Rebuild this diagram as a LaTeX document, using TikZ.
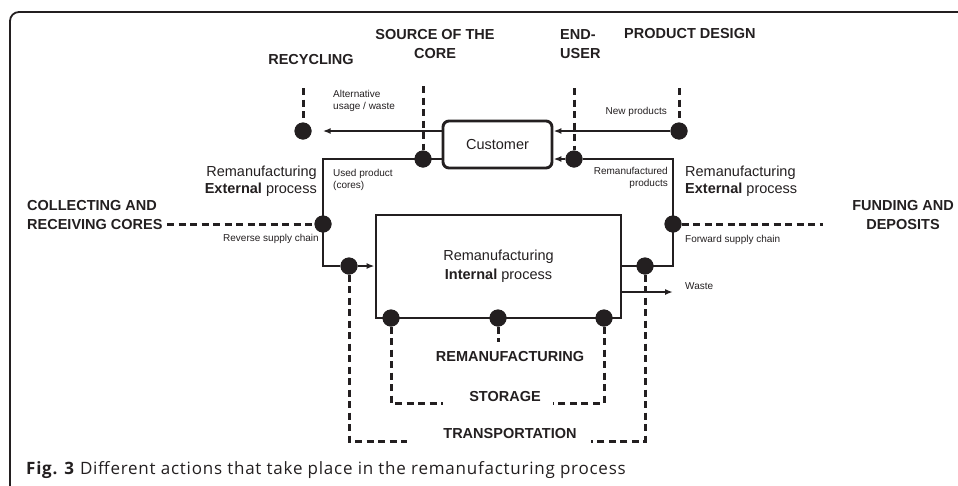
\documentclass[tikz,border=0pt]{standalone}
\usepackage{fontspec}
\setmainfont{Liberation Sans}
\newfontfamily\capfont[LetterSpace=4.5]{Open Sans}
\usetikzlibrary{arrows.meta}
\definecolor{ink}{RGB}{35,31,32}
\tikzset{
  solidline/.style={draw=ink, line width=2.9pt},
  flow/.style={solidline, -{Latex[length=8pt,width=6pt]}},
  dashline/.style={draw=ink, line width=3pt, dash pattern=on 7pt off 4.5pt},
  dot/.style={circle, fill=ink, inner sep=0pt, minimum size=17pt},
  bigcap/.style={font=\fontsize{14.5}{18.5}\selectfont\bfseries, text=ink, inner sep=0pt},
  midtxt/.style={font=\fontsize{14.5}{17}\selectfont, text=ink, inner sep=0pt},
  smalltxt/.style={font=\fontsize{10}{12}\selectfont, text=ink, inner sep=0pt},
}
\begin{document}
\begin{tikzpicture}[x=1pt,y=-1pt]
\useasboundingbox (0,0) rectangle (958,485);
% frame
\draw[ink, line width=1.8pt, rounded corners=9pt] (10,520) -- (10,12) -- (990,12);

% boxes
\node[solidline, rounded corners=6pt, minimum width=109pt, minimum height=47pt, midtxt] (cust) at (497.5,144.5) {Customer};
\node[solidline, minimum width=245pt, minimum height=103pt, midtxt, align=center] (int) at (498.5,266.5) {Remanufacturing\\[2pt]\textbf{Internal} process};

% dots
\node[dot] (dRec) at (303,131) {};
\node[dot] (dSrc) at (423,159) {};
\node[dot] (dEnd) at (574,159) {};
\node[dot] (dProd) at (679,131) {};
\node[dot] (dColl) at (323,224) {};
\node[dot] (dFund) at (673,224) {};
\node[dot] (dRevIn) at (349,266) {};
\node[dot] (dFwdOut) at (645,266) {};
\node[dot] (dS1) at (391,318) {};
\node[dot] (dRem) at (498,318) {};
\node[dot] (dS2) at (604,318) {};

% coordinates
\coordinate (cL1) at (323,159);
\coordinate (cL2) at (323,266);
\coordinate (cR1) at (673,159);
\coordinate (cR2) at (673,266);
\coordinate (wasteEnd) at (673,292);
\coordinate (recTop) at (303,88);
\coordinate (srcTop) at (423,86);
\coordinate (endTop) at (574,88);
\coordinate (prodTop) at (679,88);
\coordinate (collEnd) at (167,224);
\coordinate (fundEnd) at (823,224);
\coordinate (tL1) at (349,441);
\coordinate (tL2) at (407,441);
\coordinate (tR1) at (645,441);
\coordinate (tR2) at (591,441);
\coordinate (sL1) at (391,403);
\coordinate (sL2) at (443,403);
\coordinate (sR1) at (604,403);
\coordinate (sR2) at (553,403);
\coordinate (remEnd) at (498,342);

% dashed connectors
\draw[dashline] (recTop) -- (dRec);
\draw[dashline] (srcTop) -- (dSrc);
\draw[dashline] (endTop) -- (dEnd);
\draw[dashline] (prodTop) -- (dProd);
\draw[dashline] (collEnd) -- (dColl);
\draw[dashline] (dFund) -- (fundEnd);
\draw[dashline] (dRevIn) -- (tL1) -- (tL2);
\draw[dashline] (dFwdOut) -- (tR1) -- (tR2);
\draw[dashline] (dS1) -- (sL1) -- (sL2);
\draw[dashline] (dS2) -- (sR1) -- (sR2);
\draw[dashline] (dRem) -- (remEnd);

% solid connectors
\draw[flow, shorten >=11pt] (cust.west |- dRec) -- (dRec);
\draw[flow] (dProd) -- (cust.east |- dProd);
\draw[solidline] (cust.west |- dSrc) -- (cL1) -- (cL2) -- (dRevIn);
\draw[flow] (dRevIn) -- (int.west |- dRevIn);
\draw[solidline] (int.east |- dFwdOut) -- (cR2) -- (cR1) -- (dEnd);
\draw[flow] (dEnd) -- (cust.east |- dEnd);
\draw[flow] (int.east |- wasteEnd) -- (wasteEnd);

% redraw dots on top
\foreach \d in {dRec,dSrc,dEnd,dProd,dColl,dFund,dRevIn,dFwdOut,dS1,dRem,dS2}
  \fill[ink] (\d) circle (8.5pt);

% big labels
\node[bigcap] (lRec) at (311,60) {RECYCLING};
\node[bigcap, align=center] (lSrc) at (435,44) {SOURCE OF THE\\CORE};
\node[bigcap, align=left, anchor=west] (lEnd) at (560,44) {END-\\USER};
\node[bigcap, anchor=west] (lProd) at (624,34) {PRODUCT DESIGN};
\node[bigcap, align=left, anchor=west] (lColl) at (27,215) {COLLECTING AND\\RECEIVING CORES};
\node[bigcap, align=center] (lFund) at (903,215) {FUNDING AND\\DEPOSITS};
\node[bigcap] (lRem) at (510,357) {REMANUFACTURING};
\node[bigcap] (lSto) at (505,397) {STORAGE};
\node[bigcap] (lTra) at (510,434) {TRANSPORTATION};

% mid labels
\node[midtxt, align=right, anchor=east] (lExtL) at (317,181) {Remanufacturing\\\textbf{External} process};
\node[midtxt, align=left, anchor=west] (lExtR) at (685,181) {Remanufacturing\\\textbf{External} process};

% small labels
\node[smalltxt, align=left, anchor=west] (lAlt) at (333,101) {Alternative\\usage / waste};
\node[smalltxt, anchor=east] (lNew) at (667,112) {New products};
\node[smalltxt, align=left, anchor=west] (lUsed) at (333,180) {Used product\\(cores)};
\node[smalltxt, align=right, anchor=east] (lRmp) at (668,178) {Remanufactured\\products};
\node[smalltxt, anchor=east] (lRev) at (319,239) {Reverse supply chain};
\node[smalltxt, anchor=west] (lFwd) at (685,240) {Forward supply chain};
\node[smalltxt, anchor=west] (lWaste) at (685,286) {Waste};

% caption
\node[anchor=base west, inner sep=0pt, text=ink, font=\capfont\fontsize{17}{19}\selectfont] (cap) at (26,474) {\textbf{Fig. 3} Different actions that take place in the remanufacturing process};
\end{tikzpicture}
\end{document}
